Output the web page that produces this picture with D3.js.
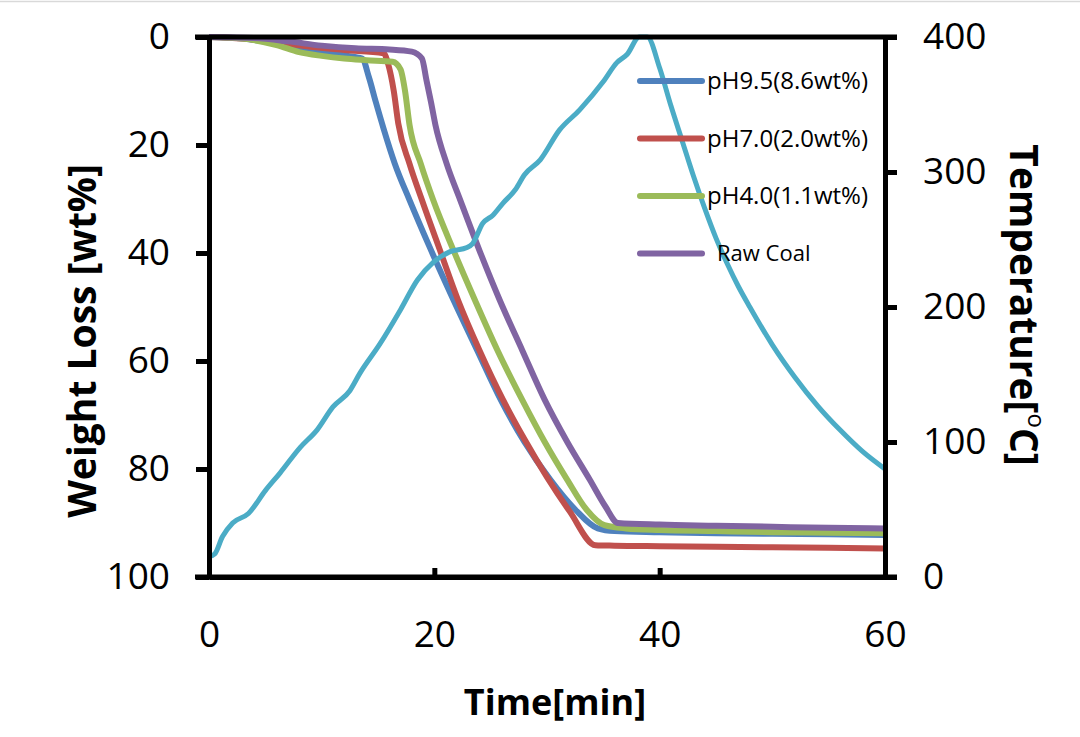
<!DOCTYPE html>
<html>
<head>
<meta charset="utf-8">
<script src="https://cdn.jsdelivr.net/npm/d3@7"></script>
<style>
  body { margin: 0; background: #fff; }
  svg { display: block; font-family: "Open Sans", sans-serif; }
</style>
</head>
<body>
<div id="chart"></div>
<script>
// weight loss series [wt%] vs time [min]
const timeBlue = [0, 3, 6, 9, 12, 13.6, 14.2, 14.8, 15.5, 16.5, 17.8, 19.5, 21.7, 23.8, 25.9, 28, 30.3, 32.5, 34.5, 36, 40, 45, 50, 55, 60];
const lossBlue = [0, 0.3, 1.2, 2.5, 3.4, 4.0, 7.5, 12, 17, 23.5, 30.2, 38.5, 48.7, 58, 67.2, 75, 82, 87.5, 91.0, 91.5, 91.7, 91.9, 92.0, 92.1, 92.2];

const timeRed = [0, 3, 6, 9, 12, 15.5, 15.9, 16.4, 16.8, 17.8, 18.9, 20.5, 22.1, 24, 26.1, 28, 30, 32, 34.3, 36, 40, 45, 50, 55, 60];
const lossRed = [0, 0.3, 1.0, 1.8, 2.4, 3.0, 5, 10, 16, 23.5, 30.2, 39.5, 48.7, 58, 67.2, 74.5, 81.5, 87.8, 94.1, 94.2, 94.3, 94.4, 94.5, 94.6, 94.7];

const timeGreen = [0, 3, 6, 8, 10, 12, 14, 16.3, 17, 17.4, 17.8, 18.8, 19.9, 21.7, 23.6, 25.6, 27.8, 29.8, 31.8, 33.5, 35.1, 37, 40, 45, 50, 55, 60];
const lossGreen = [0, 0.3, 1.5, 2.8, 3.5, 4.0, 4.3, 4.6, 6, 10, 16.3, 23.5, 30.2, 39.5, 48.7, 58, 67.2, 75, 82, 87.5, 90.4, 91.0, 91.3, 91.5, 91.7, 91.8, 91.9];

const timePurple = [0, 4, 7, 10, 13, 16, 18, 18.9, 19.3, 19.7, 20.1, 21.1, 22.3, 24, 25.8, 27.8, 29.8, 31.8, 33.8, 35.2, 36.3, 40, 45, 50, 55, 60];
const lossPurple = [0, 0.2, 0.8, 1.6, 2.1, 2.3, 2.7, 4, 8, 12, 16.3, 23.5, 30.2, 39.5, 48.7, 58, 67.2, 75, 82, 87, 90, 90.3, 90.5, 90.7, 90.9, 91.0];

// temperature [°C] vs time [min]
const timeTemp = [0, 0.5, 1.2, 2.1, 3.5, 5, 6.3, 8.1, 9.6, 11, 12.5, 13.4, 15.2, 17, 18.5, 19.9, 21.4, 22.9, 23.4, 24.3, 25.2, 26.1, 27.2, 28, 29.4, 31.1, 32.9, 35, 36.2, 37.1, 38.2, 38.9, 40, 41, 42, 43, 44, 45, 46, 47, 48, 50, 52, 54, 56, 58, 60];
const temp = [15, 17, 30, 40, 47, 64, 77, 96, 109, 126, 138, 151, 173, 198, 220, 233, 241, 244, 247, 262, 268, 277, 287, 298, 309, 331, 346, 367, 381, 387, 400, 400, 377, 349, 323, 297, 273, 251, 232, 215, 200, 172, 148, 127, 109, 93, 80];

const seriesNames = ["pH9.5(8.6wt%)", "pH7.0(2.0wt%)", "pH4.0(1.1wt%)", "Raw Coal"];
const seriesColors = ["#4F81BD", "#C0504D", "#9BBB59", "#8064A2"];
const tempColor = "#4BACC6";

const xTicks = [0, 20, 40, 60];
const lossTicks = [0, 20, 40, 60, 80, 100];
const tempTicks = [0, 100, 200, 300, 400];

const width = 1080, height = 737;
const plotLeft = 209, plotRight = 885, plotTop = 37, plotBottom = 577;

const svg = d3.select("#chart").append("svg")
    .attr("width", width)
    .attr("height", height);

// faint frame line at top
svg.append("line")
    .attr("x1", 0).attr("x2", width)
    .attr("y1", 1.5).attr("y2", 1.5)
    .attr("stroke", "#d9d9d9").attr("stroke-width", 1.5);

const x = d3.scaleLinear().domain([0, 60]).range([plotLeft, plotRight]);
const yLoss = d3.scaleLinear().domain([0, 100]).range([plotTop, plotBottom]);
const yTemp = d3.scaleLinear().domain([0, 400]).range([plotBottom, plotTop]);

const series = [
    d3.zip(timeBlue, lossBlue),
    d3.zip(timeRed, lossRed),
    d3.zip(timeGreen, lossGreen),
    d3.zip(timePurple, lossPurple)
];

const lossLine = d3.line()
    .x(d => x(d[0]))
    .y(d => yLoss(d[1]))
    .curve(d3.curveMonotoneX);

const tempLine = d3.line()
    .x(d => x(d[0]))
    .y(d => yTemp(d[1]))
    .curve(d3.curveMonotoneX);

svg.selectAll(".loss")
    .data(series)
    .enter().append("path")
    .attr("class", "loss")
    .attr("fill", "none")
    .attr("stroke", (d, i) => seriesColors[i])
    .attr("stroke-width", 6)
    .attr("stroke-linejoin", "round")
    .attr("d", lossLine);

svg.append("path")
    .datum(d3.zip(timeTemp, temp))
    .attr("fill", "none")
    .attr("stroke", tempColor)
    .attr("stroke-width", 5)
    .attr("stroke-linejoin", "round")
    .attr("d", tempLine);

// axes
const axisStyle = g => {
    g.select(".domain").attr("stroke", "#000").attr("stroke-width", 5);
    g.selectAll(".tick line").attr("stroke", "#000").attr("stroke-width", 5);
    g.selectAll(".tick text")
        .attr("fill", "#000")
        .style("font-size", "37px")
        .style("font-family", "'Open Sans', sans-serif");
};

svg.append("g")
    .attr("transform", `translate(0,${plotBottom})`)
    .call(d3.axisBottom(x).tickValues(xTicks).tickSizeInner(-9).tickSizeOuter(0).tickPadding(44))
    .call(axisStyle);

svg.append("g")
    .attr("transform", `translate(${plotLeft},0)`)
    .call(d3.axisLeft(yLoss).tickValues(lossTicks).tickSizeInner(13).tickSizeOuter(0).tickPadding(26))
    .call(axisStyle);

svg.append("g")
    .attr("transform", `translate(${plotRight},0)`)
    .call(d3.axisRight(yTemp).tickValues(tempTicks).tickSizeInner(12).tickSizeOuter(0).tickPadding(26))
    .call(axisStyle);

// horizontal frame lines run over the tick stubs
[plotTop, plotBottom].forEach(yy => {
    svg.append("line")
        .attr("x1", plotLeft - 14).attr("x2", plotRight + 12)
        .attr("y1", yy).attr("y2", yy)
        .attr("stroke", "#000").attr("stroke-width", 5);
});

// axis titles
svg.append("text")
    .attr("transform", "translate(86,341) rotate(-90)")
    .attr("text-anchor", "middle")
    .attr("dominant-baseline", "middle")
    .style("font-size", "39px")
    .style("font-weight", "bold")
    .text("Weight Loss [wt%]");

svg.append("text")
    .attr("x", 555).attr("y", 705)
    .attr("text-anchor", "middle")
    .attr("dominant-baseline", "middle")
    .style("font-size", "36px")
    .style("font-weight", "bold")
    .text("Time[min]");

const tTitle = svg.append("text")
    .attr("transform", "translate(1020,305) rotate(90)")
    .attr("text-anchor", "middle")
    .attr("dominant-baseline", "middle")
    .style("font-size", "39px")
    .style("font-weight", "bold");
tTitle.append("tspan").text("Temperature[");
tTitle.append("tspan").attr("dy", -14).style("font-size", "24px").style("font-weight", "normal").text("o");
tTitle.append("tspan").attr("dy", 14).text("C]");

// legend
const legend = svg.selectAll(".legend")
    .data(seriesNames)
    .enter().append("g")
    .attr("class", "legend")
    .attr("transform", (d, i) => `translate(640,${81 + i * 57.5})`);

legend.append("line")
    .attr("x1", 0).attr("x2", 62)
    .attr("stroke", (d, i) => seriesColors[i])
    .attr("stroke-width", 6)
    .attr("stroke-linecap", "round");

legend.append("text")
    .attr("x", (d, i) => i === 3 ? 77 : 67)
    .attr("dy", "0.35em")
    .style("font-size", (d, i) => i === 3 ? "22px" : "24px")
    .text(d => d);
</script>
</body>
</html>
